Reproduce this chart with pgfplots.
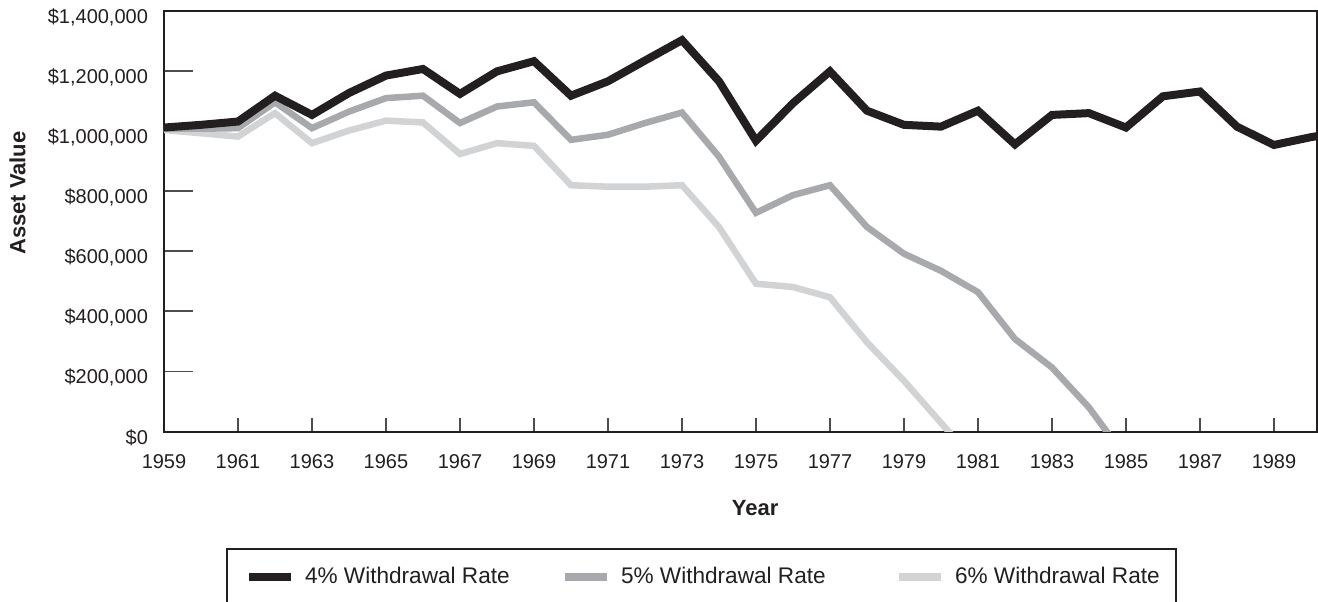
\documentclass[border=0pt]{standalone}
\usepackage{pgfplots}
\pgfplotsset{compat=1.18}
\usepackage{fontspec}
\setmainfont{Liberation Sans}
\definecolor{cA}{HTML}{231F20}
\definecolor{cB}{HTML}{A7A9AC}
\definecolor{cC}{HTML}{D1D3D4}
\definecolor{cT}{HTML}{4D4D4F}
\begin{document}
\begin{tikzpicture}
\begin{axis}[
 name=ax, at={(0,0)}, anchor=south west,
 scale only axis, width=576.25pt, height=210.25pt,
 xmin=1959, xmax=1990.15, ymin=0, ymax=1400000,
 scaled y ticks=false, scaled x ticks=false,
 axis line style={draw=cA, line width=1pt},
 tick align=inside, xtick pos=bottom, ytick pos=left,
 xtick={1959,1961,...,1989},
 ytick={0,200000,400000,600000,800000,1000000,1200000,1400000},
 yticklabels={\$0,{\$200,000},{\$400,000},{\$600,000},{\$800,000},{\$1,000,000},{\$1,200,000},{\$1,400,000}},
 /pgf/number format/assume math mode=true,
 xticklabel style={/pgf/number format/1000 sep=, font=\fontsize{10}{12}\selectfont, text=cA, yshift=-8pt},
 yticklabel style={font=\fontsize{10}{12}\selectfont, xshift=-4.5pt, yshift=-3pt, text=cA},
 xtick style={draw=cT, line width=0.9pt, /pgfplots/major tick length=7pt},
 ytick style={draw=cT, line width=0.9pt, /pgfplots/major tick length=14.5pt},
 xlabel={Year}, ylabel={Asset Value},
 xlabel style={font=\bfseries\fontsize{11}{13}\selectfont, at={(axis description cs:0.513,-0.182)}, anchor=center, text=cA},
 ylabel style={font=\bfseries\fontsize{11}{13}\selectfont, at={(axis description cs:-0.1271,0.567)}, anchor=center, text=cA},
 legend columns=3, reverse legend,
 legend cell align=left,
 legend style={at={(axis description cs:0.0538,-0.277)}, anchor=north west, draw=cA, line width=1pt, inner xsep=0pt, inner ysep=9pt, font=\fontsize{11.3}{13.5}\selectfont, text=cA, nodes={inner sep=0pt}, /tikz/every odd column/.style={column sep=5pt}},
 legend image code/.code={\path[draw=none,fill=none] (0pt,-2pt) rectangle (32pt,2pt); \draw[#1,line width=4pt] (11pt,0pt) -- (32pt,0pt);},
]
\addplot[cC, line width=3.25pt] coordinates {
(1959,1004000) (1960,993000) (1961,982000) (1962,1060000) (1963,960000) (1964,1002000)
(1965,1035000) (1966,1029000) (1967,924000) (1968,960000) (1969,951000) (1970,820000)
(1971,815000) (1972,815000) (1973,820000) (1974,681000) (1975,492000) (1976,481000)
(1977,447000) (1978,297000) (1979,169000) (1980,29000) (1980.35,-20000)};
\addlegendentry{6\% Withdrawal Rate\hspace*{8pt}}
\addplot[cB, line width=3.25pt] coordinates {
(1959,1008000) (1960,1008000) (1961,1010000) (1962,1096000) (1963,1010000) (1964,1065000)
(1965,1110000) (1966,1118000) (1967,1027000) (1968,1082000) (1969,1096000) (1970,971000)
(1971,988000) (1972,1027000) (1973,1062000) (1974,915000) (1975,728000) (1976,787000)
(1977,820000) (1978,681000) (1979,592000) (1980,535000) (1981,464000) (1982,308000)
(1983,213000) (1984,80000) (1984.6,-20000)};
\addlegendentry{\makebox[128pt][l]{5\% Withdrawal Rate}}
\addplot[cA, line width=4pt] coordinates {
(1959,1012000) (1960,1021000) (1961,1032000) (1962,1118000) (1963,1054000) (1964,1127000)
(1965,1185000) (1966,1207000) (1967,1124000) (1968,1199000) (1969,1233000) (1970,1118000)
(1971,1166000) (1972,1235000) (1973,1303000) (1974,1166000) (1975,968000) (1976,1093000)
(1977,1199000) (1978,1068000) (1979,1021000) (1980,1015000) (1981,1068000) (1982,956000)
(1983,1054000) (1984,1060000) (1985,1012000) (1986,1116000) (1987,1132000) (1988,1015000)
(1989,954000) (1990,980000) (1990.5,990000)};
\addlegendentry{\makebox[119pt][l]{4\% Withdrawal Rate}}
\end{axis}
\pgfresetboundingbox
\path[use as bounding box] (-82pt,-84.75pt) rectangle (577pt,215.75pt);
\end{tikzpicture}
\end{document}
